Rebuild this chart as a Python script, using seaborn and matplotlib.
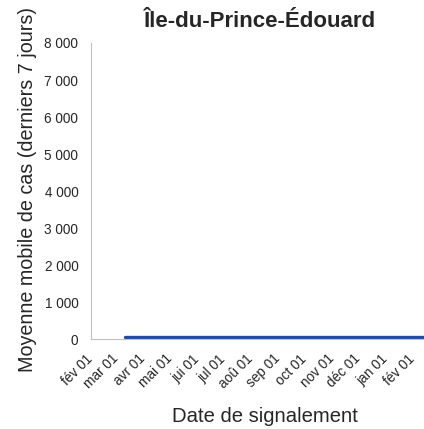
import pandas as pd
import matplotlib.pyplot as plt
import seaborn as sns

# Data
dates = ["2020-03-11", "2020-04-01", "2020-05-01", "2020-06-01", "2020-07-01",
         "2020-08-01", "2020-09-01", "2020-10-01", "2020-11-01", "2020-12-01",
         "2021-01-01", "2021-02-01", "2021-02-20"]
avg_cases = [75, 75, 75, 75, 75, 75, 75, 75, 75, 75, 75, 75, 75]
daily_cases = [10, 10, 10, 10, 10, 10, 10, 10, 10, 10, 10, 10, 10]

tick_dates = ["2020-02-01", "2020-03-01", "2020-04-01", "2020-05-01", "2020-06-01",
              "2020-07-01", "2020-08-01", "2020-09-01", "2020-10-01", "2020-11-01",
              "2020-12-01", "2021-01-01", "2021-02-01"]
tick_labels = ["fév 01", "mar 01", "avr 01", "mai 01", "jui 01", "jul 01", "aoû 01",
               "sep 01", "oct 01", "nov 01", "déc 01", "jan 01", "fév 01"]
y_ticks = [0, 1000, 2000, 3000, 4000, 5000, 6000, 7000, 8000]
y_labels = ["0", "1 000", "2 000", "3 000", "4 000", "5 000", "6 000", "7 000", "8 000"]

df = pd.DataFrame({"date": pd.to_datetime(dates), "avg": avg_cases, "daily": daily_cases})

sns.set_style("white")
plt.rcParams['font.family'] = ['Liberation Sans', 'DejaVu Sans']

W, H = 424, 429
fig = plt.figure(figsize=(W / 100, H / 100), dpi=100)
ax = fig.add_axes([90.5 / W, (H - 339.3) / H, 339 / W, (339.3 - 43) / H])

sns.lineplot(data=df, x="date", y="daily", ax=ax, color="#8aa8d8", linewidth=1.2)
sns.lineplot(data=df, x="date", y="avg", ax=ax, color="#1f4e9c", linewidth=2.4)

ax.set_xlim(pd.Timestamp("2020-02-01"), pd.Timestamp("2021-02-20"))
ax.set_ylim(0, 8000)

ax.set_xticks(pd.to_datetime(tick_dates))
ax.set_xticklabels(tick_labels, rotation=45, ha="right", va="center",
                   rotation_mode="anchor", fontsize=9.8)
ax.set_yticks(y_ticks)
ax.set_yticklabels(y_labels, fontsize=9.8)

ax.tick_params(axis="x", length=4.5, width=0.8, color="#c0c0c0", pad=8)
ax.tick_params(axis="y", length=5.8, width=0.8, color="#c0c0c0", pad=3)
for s in ["top", "right"]:
    ax.spines[s].set_visible(False)
for s in ["left", "bottom"]:
    ax.spines[s].set_color("#c0c0c0")
    ax.spines[s].set_linewidth(0.8)

ax.set_xlabel("")
ax.set_ylabel("")
fig.text(265.3 / W, 1 - 421.7 / H, "Date de signalement", fontsize=14.6,
         ha="center", va="baseline")
fig.text(33.3 / W, 1 - 190 / H, "Moyenne mobile de cas (derniers 7 jours)", fontsize=14.2,
         rotation=90, rotation_mode="anchor", ha="center", va="baseline")
fig.text(259.7 / W, 1 - 27.3 / H, "Île-du-Prince-Édouard", fontsize=16, fontweight="bold",
         ha="center", va="baseline")

fig.savefig("out.png", dpi=100)
